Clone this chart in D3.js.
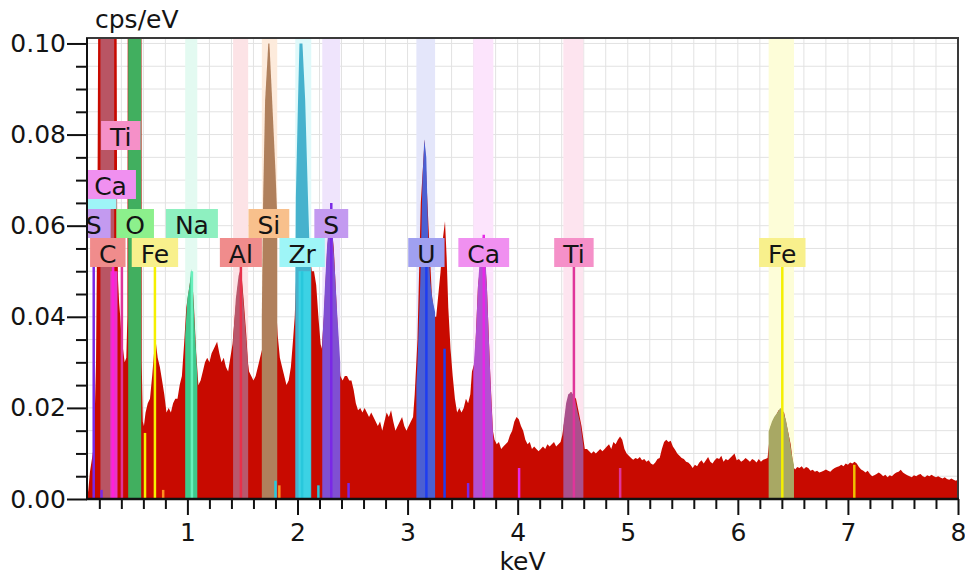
<!DOCTYPE html>
<html><head><meta charset="utf-8">
<script src="https://cdn.jsdelivr.net/npm/d3@7"></script>
<style>
body{margin:0;background:#fff}
svg{display:block}
text{font-family:"DejaVu Sans",Verdana,sans-serif;fill:#141414}
</style>
</head><body>
<svg id="chart" width="965" height="578"></svg>
<script>
// ---------------- DATA ----------------
const xTickValues = [1, 2, 3, 4, 5, 6, 7, 8];
const yTickValues = [0, 0.02, 0.04, 0.06, 0.08, 0.10];
const xAxisTitle = "keV";
const yAxisTitle = "cps/eV";

// measured spectrum [keV, cps/eV]
const spectrum = [
[0.088,0],[0.10,0.002],[0.115,0.006],[0.134,0.009],[0.152,0.012],[0.17,0.03],[0.184,0.07],[0.197,0.15],[0.22,0.3],[0.28,0.5],[0.33,0.3],[0.352,0.15],[0.362,0.06],[0.37,0.048],[0.38,0.043],[0.39,0.04],[0.40,0.036],[0.415,0.033],[0.43,0.03],[0.445,0.031],[0.455,0.04],[0.462,0.2],[0.52,0.6],[0.58,0.2],[0.585,0.03],[0.595,0.017],[0.605,0.016],[0.62,0.019],[0.64,0.021],[0.66,0.022],[0.68,0.027],[0.70,0.033],[0.715,0.034],[0.73,0.031],[0.75,0.029],[0.77,0.026],[0.79,0.023],[0.81,0.019],[0.83,0.020],[0.85,0.019],[0.87,0.021],[0.89,0.022],[0.91,0.022],[0.93,0.025],[0.95,0.027],[0.97,0.034],[0.99,0.042],[1.02,0.047],[1.04,0.050],[1.06,0.042],[1.08,0.032],[1.10,0.025],[1.12,0.026],[1.14,0.028],[1.16,0.030],[1.18,0.031],[1.20,0.030],[1.22,0.032],[1.24,0.033],[1.26,0.034],[1.27,0.0345],[1.29,0.032],[1.31,0.030],[1.33,0.031],[1.35,0.029],[1.37,0.028],[1.39,0.031],[1.41,0.034],[1.43,0.040],[1.46,0.047],[1.486,0.051],[1.51,0.044],[1.535,0.036],[1.55,0.030],[1.56,0.028],[1.58,0.027],[1.60,0.026],[1.62,0.027],[1.64,0.029],[1.66,0.031],[1.68,0.033],[1.70,0.05],[1.72,0.08],[1.74,0.1],[1.76,0.085],[1.78,0.06],[1.80,0.045],[1.82,0.036],[1.84,0.031],[1.86,0.029],[1.88,0.027],[1.90,0.025],[1.92,0.026],[1.94,0.029],[1.96,0.035],[1.975,0.04],[1.99,0.05],[2.02,0.095],[2.04,0.1],[2.06,0.08],[2.09,0.062],[2.11,0.054],[2.13,0.05],[2.15,0.05],[2.17,0.047],[2.19,0.04],[2.21,0.034],[2.22,0.033],[2.24,0.04],[2.27,0.055],[2.30,0.062],[2.33,0.055],[2.36,0.04],[2.38,0.03],[2.39,0.027],[2.41,0.026],[2.43,0.027],[2.45,0.027],[2.47,0.026],[2.49,0.026],[2.51,0.024],[2.53,0.021],[2.55,0.0195],[2.57,0.020],[2.59,0.019],[2.61,0.020],[2.63,0.019],[2.65,0.018],[2.67,0.019],[2.69,0.018],[2.71,0.017],[2.73,0.016],[2.75,0.017],[2.77,0.015],[2.79,0.017],[2.81,0.019],[2.83,0.018],[2.85,0.0195],[2.87,0.017],[2.89,0.015],[2.91,0.016],[2.93,0.017],[2.95,0.018],[2.97,0.016],[2.99,0.015],[3.01,0.016],[3.03,0.017],[3.05,0.018],[3.065,0.023],[3.09,0.035],[3.12,0.065],[3.155,0.079],[3.19,0.06],[3.22,0.045],[3.245,0.040],[3.26,0.040],[3.28,0.045],[3.30,0.050],[3.32,0.057],[3.34,0.061],[3.355,0.053],[3.37,0.042],[3.39,0.033],[3.41,0.027],[3.43,0.022],[3.45,0.019],[3.47,0.020],[3.49,0.019],[3.51,0.020],[3.53,0.022],[3.55,0.021],[3.57,0.023],[3.585,0.028],[3.61,0.03],[3.64,0.047],[3.69,0.057],[3.72,0.047],[3.75,0.028],[3.775,0.015],[3.79,0.013],[3.81,0.012],[3.83,0.0125],[3.85,0.011],[3.87,0.0115],[3.89,0.012],[3.91,0.0125],[3.93,0.014],[3.95,0.015],[3.97,0.017],[3.99,0.018],[4.01,0.0175],[4.03,0.016],[4.05,0.015],[4.07,0.013],[4.09,0.012],[4.11,0.0125],[4.13,0.011],[4.15,0.0115],[4.17,0.011],[4.19,0.0105],[4.21,0.011],[4.23,0.0115],[4.25,0.011],[4.27,0.012],[4.29,0.0115],[4.31,0.012],[4.33,0.0125],[4.35,0.0115],[4.37,0.012],[4.39,0.0125],[4.405,0.014],[4.43,0.018],[4.48,0.0235],[4.53,0.022],[4.58,0.016],[4.61,0.011],[4.63,0.011],[4.65,0.0105],[4.67,0.010],[4.69,0.0105],[4.71,0.010],[4.73,0.0105],[4.75,0.011],[4.77,0.0105],[4.79,0.011],[4.81,0.0115],[4.83,0.012],[4.85,0.011],[4.87,0.0125],[4.89,0.012],[4.91,0.013],[4.93,0.0137],[4.95,0.013],[4.97,0.011],[4.99,0.010],[5.01,0.0095],[5.03,0.009],[5.05,0.0086],[5.07,0.009],[5.09,0.0088],[5.11,0.0092],[5.13,0.0085],[5.15,0.0088],[5.17,0.0082],[5.19,0.0085],[5.21,0.0078],[5.23,0.0075],[5.25,0.008],[5.27,0.0088],[5.29,0.009],[5.31,0.011],[5.33,0.0125],[5.35,0.013],[5.37,0.0125],[5.39,0.0128],[5.41,0.0115],[5.43,0.0108],[5.45,0.010],[5.47,0.0095],[5.49,0.009],[5.51,0.0088],[5.53,0.0082],[5.55,0.008],[5.57,0.0075],[5.59,0.0068],[5.61,0.0075],[5.63,0.0072],[5.65,0.008],[5.67,0.0085],[5.69,0.0078],[5.71,0.0085],[5.73,0.0092],[5.75,0.0082],[5.77,0.0078],[5.79,0.0085],[5.81,0.009],[5.83,0.0088],[5.85,0.0095],[5.87,0.0082],[5.89,0.0088],[5.91,0.0085],[5.93,0.009],[5.95,0.0095],[5.97,0.010],[5.99,0.0085],[6.01,0.0088],[6.03,0.0082],[6.05,0.0085],[6.07,0.009],[6.09,0.0086],[6.11,0.0082],[6.13,0.0088],[6.15,0.0085],[6.17,0.008],[6.19,0.0088],[6.21,0.0082],[6.23,0.0086],[6.25,0.0088],[6.27,0.009],[6.30,0.016],[6.37,0.0195],[6.42,0.019],[6.48,0.012],[6.505,0.007],[6.52,0.0065],[6.54,0.007],[6.56,0.0068],[6.58,0.0072],[6.60,0.0066],[6.62,0.007],[6.64,0.0068],[6.66,0.0062],[6.68,0.0064],[6.70,0.006],[6.72,0.0062],[6.74,0.0058],[6.76,0.006],[6.78,0.0062],[6.80,0.0065],[6.82,0.0062],[6.84,0.006],[6.86,0.0065],[6.88,0.0068],[6.90,0.007],[6.92,0.0072],[6.94,0.0075],[6.96,0.0072],[6.98,0.0078],[7.00,0.0075],[7.02,0.008],[7.04,0.0078],[7.06,0.0082],[7.08,0.0078],[7.10,0.007],[7.12,0.0065],[7.14,0.0062],[7.16,0.0058],[7.18,0.0062],[7.20,0.0055],[7.22,0.005],[7.24,0.0052],[7.26,0.0055],[7.28,0.0058],[7.30,0.0055],[7.32,0.005],[7.34,0.0053],[7.36,0.0048],[7.38,0.0052],[7.40,0.005],[7.42,0.0055],[7.44,0.0058],[7.46,0.006],[7.48,0.0064],[7.50,0.0058],[7.52,0.0055],[7.54,0.0052],[7.56,0.005],[7.58,0.0048],[7.60,0.0052],[7.62,0.005],[7.64,0.0053],[7.66,0.0055],[7.68,0.005],[7.70,0.0048],[7.72,0.0052],[7.74,0.005],[7.76,0.0053],[7.78,0.005],[7.80,0.0048],[7.82,0.005],[7.84,0.0047],[7.86,0.0045],[7.88,0.0048],[7.90,0.0044],[7.92,0.0042],[7.94,0.0045],[7.96,0.0042],[7.98,0.004],[8.0,0.0042]
];

// element peak profiles [keV, cps/eV] (within each identified line window)
const peakC   = [[0.21,0.3],[0.335,0.3]];
const peakCaL = [[0.30,0.05],[0.365,0.05]];
const peakO   = [[0.462,0.3],[0.58,0.3]];
const peakNa  = [[0.98,0.036],[1.0,0.044],[1.02,0.047],[1.035,0.0505],[1.05,0.046],[1.07,0.036],[1.09,0.027]];
const peakAl  = [[1.415,0.035],[1.44,0.044],[1.465,0.049],[1.486,0.0507],[1.50,0.046],[1.525,0.038],[1.552,0.029]];
const peakSi  = [[1.676,0.04],[1.688,0.066],[1.706,0.0875],[1.735,0.1],[1.745,0.1],[1.77,0.0875],[1.80,0.072],[1.816,0.062]];
const peakZr  = [[1.98,0.045],[1.985,0.066],[2.005,0.0875],[2.018,0.1],[2.045,0.1],[2.07,0.0875],[2.096,0.0656],[2.11,0.055],[2.125,0.05]];
const peakZrL = [[2.01,0.05],[2.12,0.05]];
const peakS   = [[2.225,0.034],[2.25,0.047],[2.27,0.056],[2.29,0.061],[2.305,0.063],[2.32,0.058],[2.34,0.05],[2.36,0.041],[2.388,0.03]];
const peakU   = [[3.08,0.025],[3.09,0.03],[3.115,0.047],[3.135,0.07],[3.152,0.079],[3.17,0.075],[3.187,0.058],[3.205,0.048],[3.224,0.044],[3.25,0.041]];
const peakCa  = [[3.597,0.028],[3.62,0.036],[3.64,0.047],[3.66,0.054],[3.68,0.0575],[3.70,0.056],[3.72,0.047],[3.74,0.034],[3.76,0.022],[3.779,0.013]];
const peakTi  = [[4.415,0.016],[4.44,0.021],[4.46,0.023],[4.49,0.0235],[4.52,0.022],[4.545,0.019],[4.57,0.0165],[4.597,0.0115]];
const peakFe  = [[6.28,0.0148],[6.31,0.017],[6.33,0.018],[6.36,0.019],[6.385,0.020],[6.41,0.0195],[6.44,0.017],[6.47,0.013],[6.495,0.009],[6.51,0.0075]];

// element line markers
const markerEnergy  = [0.149, 0.22, 0.325, 0.405, 0.615, 0.705, 0.78, 1.041, 1.486, 1.80, 1.835, 2.042, 2.19, 2.307, 2.464, 3.171, 3.336, 3.55, 3.692, 4.013, 4.511, 4.931, 6.404, 7.058];
const markerHeight  = [0.06, 0.002, 0.051, 0.051, 0.0145, 0.051, 0.002, 0.05, 0.051, 0.004, 0.003, 0.05, 0.003, 0.065, 0.0035, 0.051, 0.033, 0.0035, 0.058, 0.0068, 0.051, 0.0068, 0.051, 0.0075];
const markerElement = ["S","S","CaL","Ti","Fe","Fe","Si","Na","Al","Zr","Si","Zr","Zr","S","S","U","U","S","Ca","Ca","Ti","Ti","Fe","FeB"];

// labels (the first one, Zr M, is almost fully hidden behind the others: only its box edge shows)
const labelText   = ["Zr","S","Ca","Ti","C","O","Fe","Na","Al","Si","Zr","S","U","Ca","Ti","Fe"];
const labelEnergy = [0.151, 0.149, 0.302, 0.395, 0.277, 0.525, 0.705, 1.041, 1.486, 1.740, 2.042, 2.307, 3.171, 3.692, 4.511, 6.404];

// ---------------- STYLE / LAYOUT ----------------
const labelTop = [180, 209, 170, 121, 238, 209, 238, 209, 238, 209, 238, 209, 238, 238, 238, 238];
const labelTextShown = [false, true, true, true, true, true, true, true, true, true, true, true, true, true, true, true];
const style = {
  C:  {label:"#f08c8c", fill:"#b95564"},
  CaL:{fill:"#e834c8", line:"#ff20d8"},
  O:  {label:"#8cf08c", fill:"#41af5f"},
  Na: {label:"#8ef0c0", fill:"#3ec88c", band:"#e3faf1", line:"#66f0bc"},
  Al: {label:"#f08c8c", fill:"#b9586c", band:"#fce3e6", line:"#e8304a"},
  Si: {label:"#f8c08c", fill:"#b0805c", band:"#fdebdc", line:"#ff9020"},
  Zr: {label:"#9ef5f7", fill:"#46b2cd", band:"#dff9fa", line:"#28c8dc"},
  ZrL:{fill:"#3cd2e4"},
  S:  {label:"#c39af0", fill:"#8050d2", band:"#efe4fc", line:"#7a28e6"},
  U:  {label:"#a0a0f0", fill:"#4b5fd2", band:"#e4e6fa", line:"#1e3cf0"},
  Ca: {label:"#f090f0", fill:"#b450d2", band:"#fce4fc", line:"#e628e6"},
  Ti: {label:"#f590c8", fill:"#aa508c", band:"#fde4ef", line:"#e0349a"},
  Fe: {label:"#f8f08c", fill:"#a8a864", band:"#fdfdd8", line:"#f5f000"},
  FeB:{line:"#f0c000"}
};
const overlays = [
  ["C", peakC], ["CaL", peakCaL], ["O", peakO], ["Na", peakNa], ["Al", peakAl], ["Si", peakSi],
  ["Zr", peakZr], ["ZrL", peakZrL], ["S", peakS], ["U", peakU], ["Ca", peakCa], ["Ti", peakTi], ["Fe", peakFe]
];
const bandElements = ["Na","Al","Si","Zr","S","U","Ca","Ti","Fe"];

const plot = {left: 87, right: 958, top: 38, bottom: 499};
const FONT = 25;

const svg = d3.select("#chart");
const x = d3.scaleLinear().domain([0.088, 8]).range([plot.left, plot.right]);
const y = d3.scaleLinear().domain([0, 0.1012]).range([plot.bottom, plot.top]);

svg.append("defs").append("clipPath").attr("id", "clip")
  .append("rect").attr("x", plot.left).attr("y", plot.top)
  .attr("width", plot.right - plot.left).attr("height", plot.bottom - plot.top);

// grid
const grid = svg.append("g");
const xGrid = d3.range(0.2, 7.9, 0.2);
const yGrid = d3.range(0.005, 0.1001, 0.005);
grid.selectAll("line.v").data(xGrid).join("line")
  .attr("x1", d => x(d)).attr("x2", d => x(d)).attr("y1", plot.top).attr("y2", plot.bottom)
  .attr("stroke", "#e2e2e2").attr("stroke-width", 1);
grid.selectAll("line.h").data(yGrid).join("line")
  .attr("x1", plot.left).attr("x2", plot.right).attr("y1", d => y(d)).attr("y2", d => y(d))
  .attr("stroke", "#e2e2e2").attr("stroke-width", 1);

const body = svg.append("g").attr("clip-path", "url(#clip)");

// light bands
const overlayMap = Object.fromEntries(overlays);
body.selectAll("rect.band").data(bandElements).join("rect")
  .attr("x", d => x(overlayMap[d][0][0]))
  .attr("width", d => x(overlayMap[d][overlayMap[d].length - 1][0]) - x(overlayMap[d][0][0]))
  .attr("y", plot.top).attr("height", plot.bottom - plot.top)
  .attr("fill", d => style[d].band);

// spectrum
const area = d3.area().x(d => x(d[0])).y0(y(0)).y1(d => y(d[1]));
body.append("path").datum(spectrum).attr("d", area).attr("fill", "#c80a00");

// overlays
body.selectAll("path.ov").data(overlays).join("path")
  .attr("d", d => area(d[1])).attr("fill", d => style[d[0]].fill);

// marker lines
const markers = markerEnergy.map((e, i) => ({e, h: markerHeight[i], el: markerElement[i]}));
body.selectAll("line.mk").data(markers).join("line")
  .attr("x1", d => x(d.e)).attr("x2", d => x(d.e))
  .attr("y1", y(0)).attr("y2", d => y(d.h))
  .attr("stroke", d => style[d.el].line).attr("stroke-width", 2.5);

// labels
const labG = body.append("g");
labelText.forEach((t, i) => {
  const cx = x(labelEnergy[i]);
  const top = labelTop[i];
  const g = labG.append("g");
  const txt = g.append("text").attr("x", cx).attr("y", top + 25)
    .attr("text-anchor", "middle").attr("font-size", FONT).text(t);
  const w = txt.node().getComputedTextLength() + 18;
  g.insert("rect", "text").attr("x", cx - w / 2).attr("y", top)
    .attr("width", w).attr("height", 29).attr("fill", style[t].label);
  if (!labelTextShown[i]) txt.remove();
});

// axes
const xMinor = d3.range(0.2, 8, 0.2).filter(v => Math.abs(v - Math.round(v)) > 0.01);
const yMinor = d3.range(0.005, 0.1, 0.005).filter(v => Math.abs(v / 0.02 - Math.round(v / 0.02)) > 0.01);

const xAxisMinor = svg.append("g").attr("transform", `translate(0,${plot.bottom})`)
  .call(d3.axisBottom(x).tickValues(xMinor).tickSize(10).tickFormat(""));
const xAxis = svg.append("g").attr("transform", `translate(0,${plot.bottom})`)
  .call(d3.axisBottom(x).tickValues(xTickValues).tickSize(16).tickPadding(8).tickFormat(d3.format("d")));
const yAxisMinor = svg.append("g").attr("transform", `translate(${plot.left},0)`)
  .call(d3.axisLeft(y).tickValues(yMinor).tickSize(11).tickFormat(""));
const yAxis = svg.append("g").attr("transform", `translate(${plot.left},0)`)
  .call(d3.axisLeft(y).tickValues(yTickValues).tickSize(20).tickPadding(1).tickFormat(d3.format(".2f")));

[xAxisMinor, xAxis, yAxisMinor, yAxis].forEach(a => {
  a.select(".domain").remove();
  a.selectAll(".tick line").attr("stroke", "#111").attr("stroke-width", 2);
  a.selectAll(".tick text").attr("font-size", FONT).attr("font-family", "DejaVu Sans").attr("fill", "#141414");
});

// frame
svg.append("rect").attr("x", plot.left).attr("y", plot.top)
  .attr("width", plot.right - plot.left).attr("height", plot.bottom - plot.top)
  .attr("fill", "none").attr("stroke", "#3a3a3a").attr("stroke-width", 2);
svg.append("line").attr("x1", plot.left - 1).attr("x2", plot.right + 1)
  .attr("y1", plot.bottom).attr("y2", plot.bottom).attr("stroke", "#111").attr("stroke-width", 2.5);
svg.append("line").attr("x1", plot.left).attr("x2", plot.left)
  .attr("y1", plot.top).attr("y2", plot.bottom).attr("stroke", "#111").attr("stroke-width", 2);

// titles
svg.append("text").attr("x", 95).attr("y", 28).attr("font-size", FONT).text(yAxisTitle);
svg.append("text").attr("x", (plot.left + plot.right) / 2).attr("y", 570)
  .attr("text-anchor", "middle").attr("font-size", FONT).text(xAxisTitle);
</script>
</body></html>
